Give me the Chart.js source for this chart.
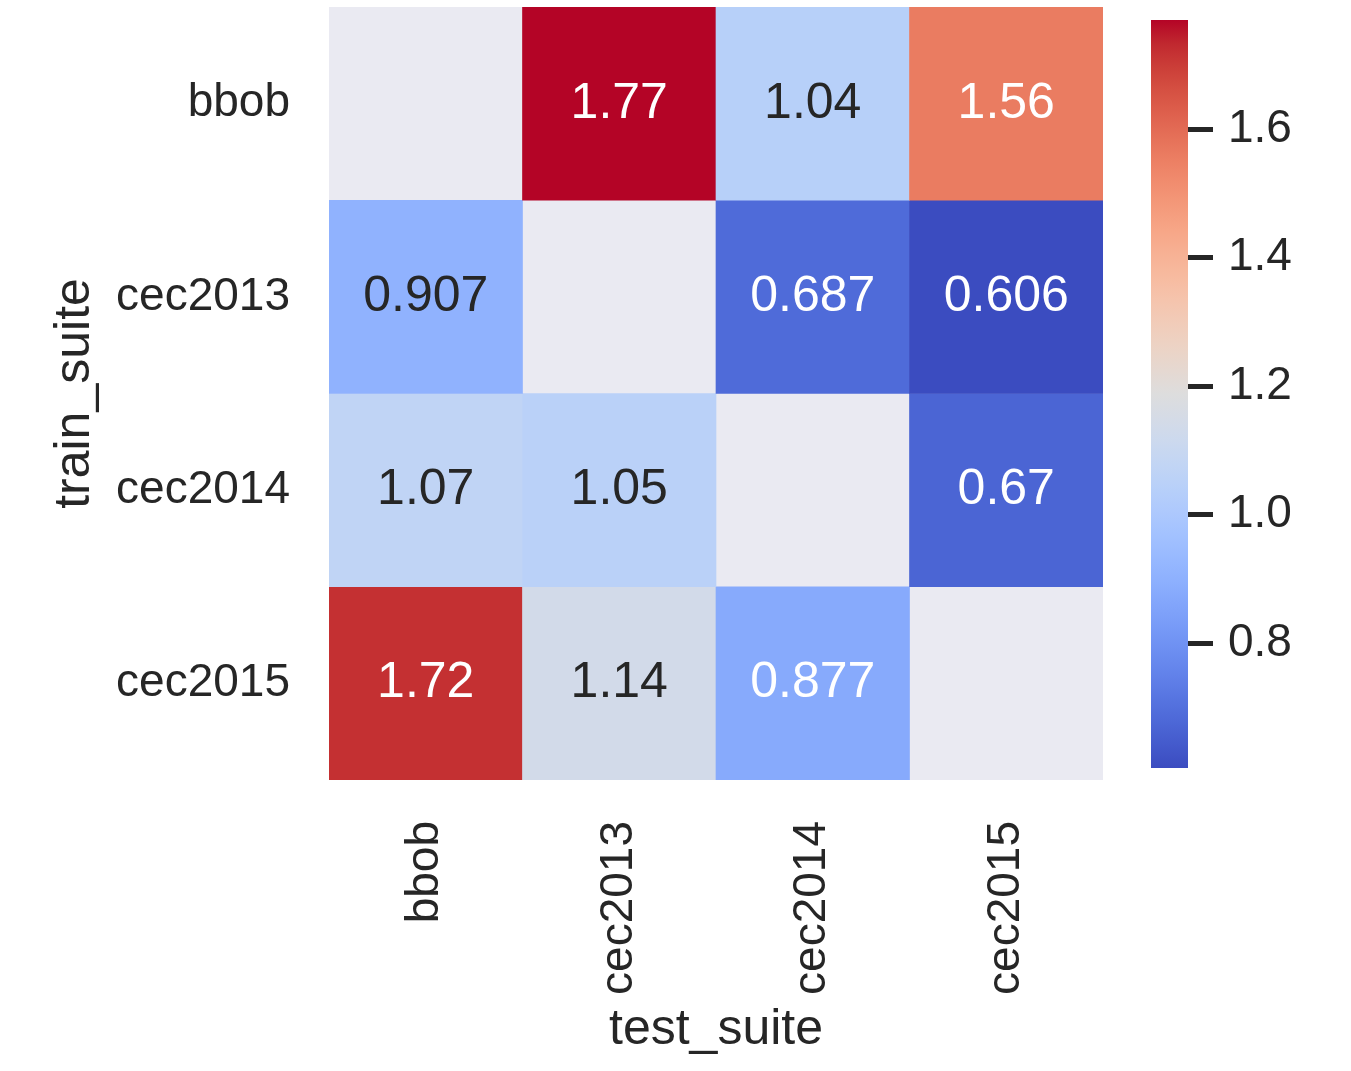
<!DOCTYPE html>
<html><head><meta charset="utf-8">
<script src="https://cdn.jsdelivr.net/npm/chart.js@4/dist/chart.umd.min.js"></script>
<style>
html,body{margin:0;padding:0;background:#fff;}
#wrap{position:relative;width:1351px;height:1071px;overflow:hidden;}
canvas{position:absolute;top:0;}
#main{left:0;}
#cbar{left:1100px;}
</style></head><body>
<div id="wrap"><canvas id="main" width="1351" height="1071"></canvas><canvas id="cbar" width="251" height="1071"></canvas></div>
<script>
// ---- data ----
const testSuites = ['bbob', 'cec2013', 'cec2014', 'cec2015'];
const trainSuites = ['bbob', 'cec2013', 'cec2014', 'cec2015'];
const rowBbob    = [null, 1.77, 1.04, 1.56];
const rowCec2013 = [0.907, null, 0.687, 0.606];
const rowCec2014 = [1.07, 1.05, null, 0.67];
const rowCec2015 = [1.72, 1.14, 0.877, null];
const colorbarTicks = [0.8, 1.0, 1.2, 1.4, 1.6];
const xTitle = 'test_suite';
const yTitle = 'train_suite';

// ---- style ----
const FONT = '"Liberation Sans", Arial, sans-serif';
const TEXT = '#262626';
Chart.defaults.font.family = FONT;

// coolwarm colormap (Moreland), 33 samples
const CW = [[59,76,192],[68,90,204],[77,104,215],[87,117,225],[98,130,234],[108,142,241],[119,154,247],[130,165,251],[141,176,254],[152,185,255],[163,194,255],[174,201,253],[184,208,249],[194,213,244],[204,217,238],[213,219,230],[221,221,221],[229,216,209],[236,211,197],[241,204,185],[245,196,173],[247,187,160],[247,177,148],[247,166,135],[244,154,123],[241,141,111],[236,127,99],[229,112,88],[222,96,77],[213,80,66],[203,62,56],[192,40,47],[180,4,38]];
function coolwarm(t) {
  t = Math.max(0, Math.min(1, t));
  const p = t * (CW.length - 1);
  const i = Math.min(CW.length - 2, Math.floor(p));
  const f = p - i;
  return CW[i].map((c, k) => c + (CW[i + 1][k] - c) * f);
}
const rgbStr = c => `rgb(${Math.round(c[0])},${Math.round(c[1])},${Math.round(c[2])})`;
function luminance(c) {
  const lin = c.map(v => { v /= 255; return v <= 0.03928 ? v / 12.92 : Math.pow((v + 0.055) / 1.055, 2.4); });
  return 0.2126 * lin[0] + 0.7152 * lin[1] + 0.0722 * lin[2];
}
const LUM_THRESHOLD = 0.42;

const rows = [rowBbob, rowCec2013, rowCec2014, rowCec2015];
const allVals = rows.flat().filter(v => v !== null);
const vmin = Math.min(...allVals), vmax = Math.max(...allVals);
const norm = v => (v - vmin) / (vmax - vmin);

const datasets = rows.map((row, i) => ({
  label: trainSuites[i],
  data: row.map(v => v === null ? null : [i, i + 1]),
  backgroundColor: ctx => { const v = row[ctx.dataIndex]; return v === null ? 'rgba(0,0,0,0)' : rgbStr(coolwarm(norm(v))); },
  borderWidth: 0,
  barPercentage: 1,
  categoryPercentage: 1
}));

const bgPlugin = {
  id: 'axesBg',
  beforeDatasetsDraw(chart) {
    const { ctx, chartArea: a } = chart;
    ctx.save();
    ctx.fillStyle = '#EAEAF2';
    ctx.fillRect(a.left, a.top, a.right - a.left, a.bottom - a.top);
    ctx.restore();
  }
};
const annotPlugin = {
  id: 'annot',
  afterDatasetsDraw(chart) {
    const ctx = chart.ctx;
    ctx.save();
    ctx.font = `50px ${FONT}`;
    ctx.textAlign = 'center';
    ctx.textBaseline = 'alphabetic';
    rows.forEach((row, i) => {
      const meta = chart.getDatasetMeta(i);
      row.forEach((v, j) => {
        if (v === null) return;
        const el = meta.data[j];
        const cy = (el.y + el.base) / 2;
        const col = coolwarm(norm(v));
        ctx.fillStyle = luminance(col) > LUM_THRESHOLD ? TEXT : '#ffffff';
        ctx.fillText(String(Number(v.toPrecision(3))), el.x, cy + 14);
      });
    });
    ctx.restore();
  }
};
function zeroPad(s) { s.paddingTop = 0; s.paddingBottom = 0; s.paddingLeft = 0; s.paddingRight = 0; }

new Chart(document.getElementById('main'), {
  type: 'bar',
  data: { labels: testSuites, datasets },
  options: {
    responsive: false, animation: false, devicePixelRatio: 1,
    layout: { padding: { top: 7, right: 248, left: 0, bottom: 0 } },
    plugins: { legend: { display: false }, tooltip: { enabled: false } },
    scales: {
      x: {
        type: 'category', stacked: true, offset: true,
        grid: { display: false, drawTicks: false }, border: { display: false },
        ticks: { autoSkip: false, maxRotation: 90, minRotation: 90, padding: 41, color: TEXT, font: { size: 46 } },
        title: { display: true, text: xTitle, color: TEXT, font: { size: 50 }, padding: { top: 0, bottom: 11 } },
        afterFit(s) { s.height = 291; zeroPad(s); }
      },
      y: {
        type: 'linear', min: 0, max: 4, reverse: true,
        grid: { display: false, drawTicks: false }, border: { display: false },
        afterBuildTicks(s) { s.ticks = trainSuites.map((_, i) => ({ value: i + 0.5 })); },
        ticks: { autoSkip: false, padding: 39, color: TEXT, font: { size: 46 }, callback: v => trainSuites[Math.floor(v)] },
        title: { display: true, text: yTitle, color: TEXT, font: { size: 50 }, padding: { top: 45, bottom: 0 } },
        afterFit(s) { s.width = 329; zeroPad(s); }
      }
    }
  },
  plugins: [bgPlugin, annotPlugin]
});

new Chart(document.getElementById('cbar'), {
  type: 'bar',
  data: {
    labels: [''],
    datasets: [{
      data: [[vmin, vmax]],
      backgroundColor: ctx => {
        const a = ctx.chart.chartArea;
        if (!a) return 'rgba(0,0,0,0)';
        const g = ctx.chart.ctx.createLinearGradient(0, a.bottom, 0, a.top);
        CW.forEach((c, k) => g.addColorStop(k / (CW.length - 1), rgbStr(c)));
        return g;
      },
      borderWidth: 0, barPercentage: 1, categoryPercentage: 1
    }]
  },
  options: {
    responsive: false, animation: false, devicePixelRatio: 1,
    layout: { padding: { left: 51, top: 20, bottom: 303, right: 0 } },
    plugins: { legend: { display: false }, tooltip: { enabled: false } },
    scales: {
      x: { display: false },
      y: {
        position: 'right', min: vmin, max: vmax,
        afterBuildTicks(s) { s.ticks = colorbarTicks.map(v => ({ value: v })); },
        ticks: { padding: 15, color: TEXT, font: { size: 46 }, callback: v => v.toFixed(1) },
        grid: { display: true, drawOnChartArea: false, drawTicks: true, tickLength: 25, tickWidth: 5, tickColor: TEXT },
        border: { display: false },
        afterFit(s) { s.width = 163; zeroPad(s); }
      }
    }
  }
});
</script>
</body></html>
